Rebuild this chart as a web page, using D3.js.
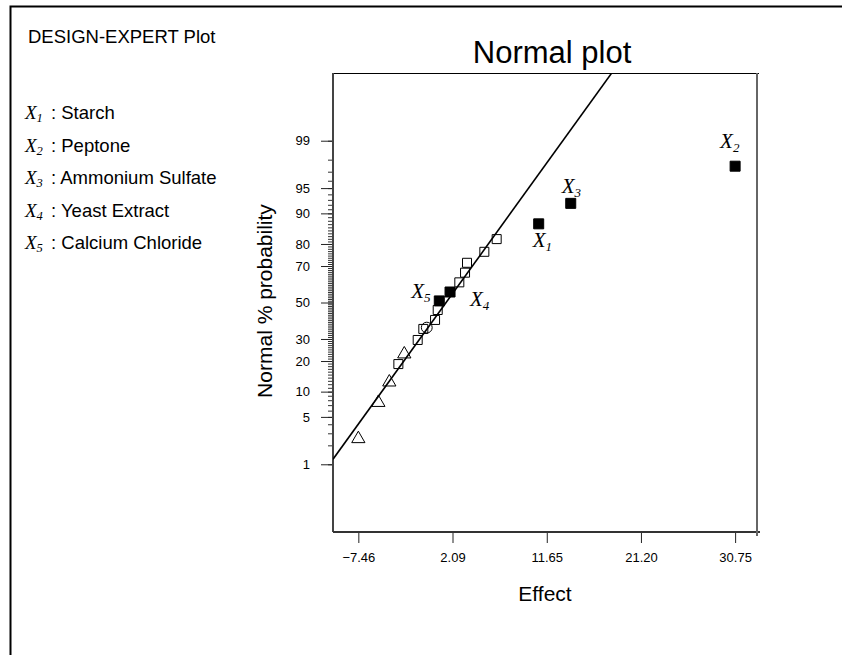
<!DOCTYPE html>
<html>
<head>
<meta charset="utf-8">
<script src="https://cdn.jsdelivr.net/npm/d3@7"></script>
<style>
  html, body { margin: 0; padding: 0; background: #fff; }
  svg { display: block; }
</style>
</head>
<body>
<svg id="chart" width="842" height="655"></svg>
<script>
// Normal probability plot of the factor effects

const pointEffects = [-7.46, -5.43, -4.32, -3.40, -2.80, -1.44, -0.87, -0.52, 0.32, 0.59,
                      0.75, 1.84, 2.78, 3.36, 3.56, 5.32, 6.57, 10.83, 14.08, 30.75];
const pointProbs   = [2.5, 7.5, 12.6, 18.8, 22.9, 29.5, 35.2, 35.9, 40.1, 45.7,
                      50.9, 56.0, 61.4, 66.6, 71.6, 76.7, 81.9, 87.1, 92.3, 97.5];
const pointKinds   = ["triangle", "triangle", "triangle", "square", "triangle", "square", "square", "circle", "square", "square",
                      "factor", "factor", "square", "square", "square", "square", "square", "factor", "factor", "factor"];
const pointFactor  = [null, null, null, null, null, null, null, null, null, null,
                      "5", "4", null, null, null, null, null, "1", "3", "2"];

const factorIds    = ["1", "2", "3", "4", "5"];
const factorNames  = ["Starch", "Peptone", "Ammonium Sulfate", "Yeast Extract", "Calcium Chloride"];

const xTickValues  = [-7.46, 2.09, 11.65, 21.20, 30.75];
const yMajorProbs  = [1, 5, 10, 20, 30, 50, 70, 80, 90, 95, 99];
const yMinorProbs  = d3.range(1, 100);

// fitted reference line (effect at 50 % and spread per unit normal score)
const fitMean = 1.44;
const fitSD   = 5.09;

// ---- layout ----
const SANS  = "'Liberation Sans', Arial, Helvetica, sans-serif";
const SERIF = "'Liberation Serif', 'Times New Roman', serif";
const plot = { left: 333, right: 757, top: 73, bottom: 532 };

// label placement for factor points, relative to the marker centre
const factorLabelOffset = {
  "1": [-6, 23], "2": [-15, -18], "3": [-9, -10], "4": [20, 14], "5": [-28, -3]
};

// inverse of the standard normal CDF (Acklam's rational approximation)
function probit(p) {
  const a = [-3.969683028665376e+01, 2.209460984245205e+02, -2.759285104469687e+02,
             1.383577518672690e+02, -3.066479806614716e+01, 2.506628277459239e+00];
  const b = [-5.447609879822406e+01, 1.615858368580409e+02, -1.556989798598866e+02,
             6.680131188771972e+01, -1.328068155288572e+01];
  const c = [-7.784894002430293e-03, -3.223964580411365e-01, -2.400758277161838e+00,
             -2.549732539343734e+00, 4.374664141464968e+00, 2.938163982698783e+00];
  const d = [7.784695709041462e-03, 3.224671290700398e-01, 2.445134137142996e+00,
             3.754408661907416e+00];
  const plow = 0.02425, phigh = 1 - plow;
  let q, r;
  if (p < plow) {
    q = Math.sqrt(-2 * Math.log(p));
    return (((((c[0]*q+c[1])*q+c[2])*q+c[3])*q+c[4])*q+c[5]) / ((((d[0]*q+d[1])*q+d[2])*q+d[3])*q+1);
  }
  if (p <= phigh) {
    q = p - 0.5; r = q * q;
    return (((((a[0]*r+a[1])*r+a[2])*r+a[3])*r+a[4])*r+a[5])*q /
           (((((b[0]*r+b[1])*r+b[2])*r+b[3])*r+b[4])*r+1);
  }
  q = Math.sqrt(-2 * Math.log(1 - p));
  return -(((((c[0]*q+c[1])*q+c[2])*q+c[3])*q+c[4])*q+c[5]) / ((((d[0]*q+d[1])*q+d[2])*q+d[3])*q+1);
}

const svg = d3.select("#chart");

// outer frame
svg.append("rect")
  .attr("x", 10.5).attr("y", 6.5).attr("width", 900).attr("height", 700)
  .attr("fill", "none").attr("stroke", "#000").attr("stroke-width", 2);

// scales: effect on x, normal score on y
const x = d3.scaleLinear().domain([-10.03, 32.97]).range([plot.left, plot.right]);
const yZ = d3.scaleLinear().domain([-3.3, 3.3]).range([plot.bottom, plot.top]);
const yProb = p => yZ(probit(p / 100));

// title
svg.append("text")
  .attr("x", 552).attr("y", 63).attr("text-anchor", "middle")
  .attr("font-family", SANS).attr("font-size", 31).attr("fill", "#000")
  .text("Normal plot");

// left legend block
svg.append("text")
  .attr("x", 28).attr("y", 43)
  .attr("font-family", SANS).attr("font-size", 18.5).attr("fill", "#000")
  .text("DESIGN-EXPERT Plot");

const legend = svg.append("g");
factorIds.forEach((id, i) => {
  const yb = 119 + i * 32.5;
  const t = legend.append("text").attr("x", 25).attr("y", yb)
    .attr("font-family", SERIF).attr("font-style", "italic").attr("font-size", 19).attr("fill", "#000");
  t.append("tspan").text("X");
  t.append("tspan").attr("font-size", 12.5).attr("dy", 3).text(id);
  legend.append("text").attr("x", 51).attr("y", yb)
    .attr("font-family", SANS).attr("font-size", 18.5).attr("fill", "#000")
    .text(": " + factorNames[i]);
});

// y axis: minor ticks every percent, labelled major ticks
const yMinorAxis = d3.axisLeft(yZ)
  .tickValues(yMinorProbs.map(p => probit(p / 100)))
  .tickSize(5).tickFormat("");
svg.append("g").attr("transform", `translate(${plot.left},0)`).call(yMinorAxis)
  .call(g => g.select(".domain").remove())
  .call(g => g.selectAll("line").attr("stroke", "#333"));

const yMajorAxis = d3.axisLeft(yZ)
  .tickValues(yMajorProbs.map(p => probit(p / 100)))
  .tickSize(12).tickPadding(11)
  .tickFormat((d, i) => yMajorProbs[i]);
svg.append("g").attr("transform", `translate(${plot.left},0)`).call(yMajorAxis)
  .call(g => g.select(".domain").remove())
  .call(g => g.selectAll("line").attr("stroke", "#222"))
  .call(g => g.selectAll("text").attr("font-family", SANS).attr("font-size", 13).attr("fill", "#000"));

// x axis
const xAxis = d3.axisBottom(x).tickValues(xTickValues).tickSize(11).tickPadding(10)
  .tickFormat(d3.format(".2f"));
svg.append("g").attr("transform", `translate(0,${plot.bottom})`).call(xAxis)
  .call(g => g.select(".domain").remove())
  .call(g => g.selectAll("line").attr("stroke", "#222"))
  .call(g => g.selectAll("text").attr("font-family", SANS).attr("font-size", 13).attr("fill", "#000"));

// plot frame
const frame = svg.append("g").attr("fill", "none").attr("shape-rendering", "crispEdges");
frame.append("line").attr("x1", plot.left).attr("x2", plot.right + 2)
  .attr("y1", plot.top).attr("y2", plot.top).attr("stroke", "#000");
frame.append("line").attr("x1", plot.left).attr("x2", plot.left)
  .attr("y1", plot.top).attr("y2", plot.bottom).attr("stroke", "#444").attr("stroke-width", 1.5);
frame.append("line").attr("x1", plot.left).attr("x2", plot.right + 3)
  .attr("y1", plot.bottom).attr("y2", plot.bottom).attr("stroke", "#333").attr("stroke-width", 1.5);
frame.append("line").attr("x1", plot.right).attr("x2", plot.right)
  .attr("y1", plot.top).attr("y2", plot.bottom + 4).attr("stroke", "#666").attr("stroke-width", 1.5);

// axis titles
svg.append("text")
  .attr("transform", `translate(272,301) rotate(-90)`).attr("text-anchor", "middle")
  .attr("font-family", SANS).attr("font-size", 21).attr("fill", "#000")
  .text("Normal % probability");
svg.append("text")
  .attr("x", 545).attr("y", 601).attr("text-anchor", "middle")
  .attr("font-family", SANS).attr("font-size", 21).attr("fill", "#000")
  .text("Effect");

// fitted line, clipped to the plot area
svg.append("clipPath").attr("id", "plot-clip").append("rect")
  .attr("x", plot.left).attr("y", plot.top)
  .attr("width", plot.right - plot.left).attr("height", plot.bottom - plot.top);
const lineGen = d3.line().x(d => x(d)).y(d => yZ((d - fitMean) / fitSD));
svg.append("path")
  .attr("clip-path", "url(#plot-clip)")
  .attr("d", lineGen(x.domain()))
  .attr("fill", "none").attr("stroke", "#000").attr("stroke-width", 1.6);

// points
const points = pointEffects.map((e, i) => ({
  effect: e, prob: pointProbs[i], kind: pointKinds[i], factor: pointFactor[i]
}));
const symbolFor = {
  triangle: d3.symbol().type(d3.symbolTriangle).size(76),
  square:   d3.symbol().type(d3.symbolSquare).size(81),
  circle:   d3.symbol().type(d3.symbolCircle).size(92),
  factor:   d3.symbol().type(d3.symbolSquare).size(100)
};
svg.append("g").selectAll("path")
  .data(points)
  .join("path")
  .attr("transform", d => `translate(${x(d.effect)},${yProb(d.prob)})`)
  .attr("d", d => symbolFor[d.kind]())
  .attr("fill", d => d.kind === "factor" ? "#000" : "none")
  .attr("stroke", "#000").attr("stroke-width", 1);

// factor labels
const labels = svg.append("g").selectAll("text")
  .data(points.filter(d => d.factor))
  .join("text")
  .attr("x", d => x(d.effect) + factorLabelOffset[d.factor][0])
  .attr("y", d => yProb(d.prob) + factorLabelOffset[d.factor][1])
  .attr("font-family", SERIF).attr("font-style", "italic").attr("font-size", 21).attr("fill", "#000");
labels.append("tspan").text("X");
labels.append("tspan").attr("font-size", 13).attr("dy", 4).text(d => d.factor);
</script>
</body>
</html>
